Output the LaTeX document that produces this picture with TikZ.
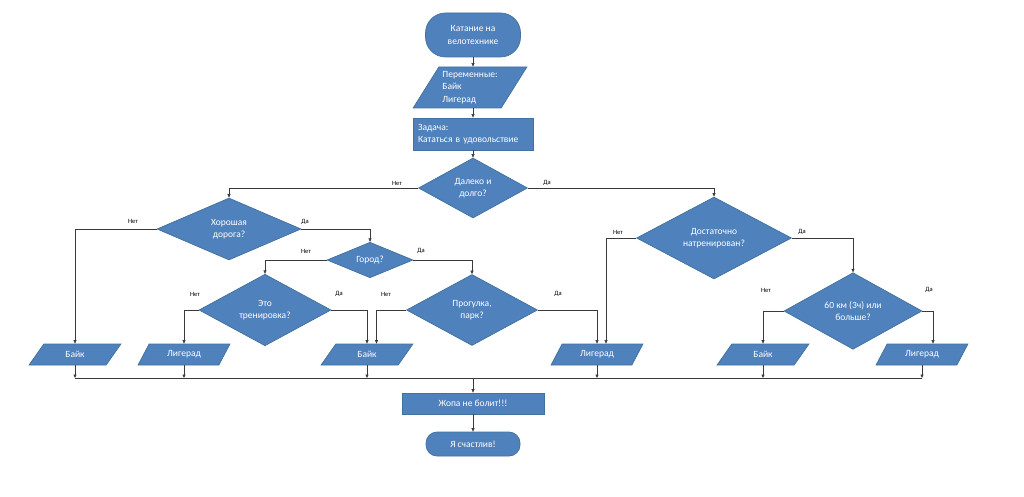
\documentclass[tikz,border=0pt]{standalone}
\usepackage{fontspec}
\setmainfont{Carlito}
\usetikzlibrary{shapes.geometric,arrows.meta}
\definecolor{boxfill}{HTML}{4F81BD}
\definecolor{boxline}{HTML}{41719C}
\definecolor{wirecol}{HTML}{3A3A3A}
\begin{document}
\begin{tikzpicture}[x=1pt,y=-1pt,
  base/.style={fill=boxfill, draw=boxline, line width=0.7pt, text=white,
    font=\fontsize{9.5}{12.5}\selectfont, inner sep=0pt, align=center},
  dec/.style={base, diamond},
  io/.style={base, trapezium, trapezium left angle=55, trapezium right angle=125,
    trapezium stretches=true, minimum width=92pt, minimum height=21pt},
  term/.style={base, rectangle},
  proc/.style={base, rectangle},
  lbl/.style={font=\fontsize{6.5}{7.5}\selectfont, text=black, inner sep=0pt},
  wire/.style={draw=wirecol, line width=0.6pt},
  arr/.style={wire, -{Triangle[length=3.5pt,width=3pt]}}]
\fill[white] (0,0) rectangle (1024,497);
\useasboundingbox (0,0) rectangle (1024,497);

% top chain
\node[term, minimum width=95pt, minimum height=44pt, rounded corners=20pt] (start) at (473,35) {Катание на\\велотехнике};
\node[io, minimum width=114pt, minimum height=41pt, align=left] (par) at (470,87.5) {Переменные:\\Байк\\Лигерад};
\node[proc, minimum width=120pt, minimum height=32pt, text width=110pt, align=left] (task) at (473,134) {Задача:\\Кататься в удовольствие};

% decisions
\node[dec, minimum width=109pt, minimum height=60pt] (d1) at (473,188) {Далеко и\\долго?};
\node[dec, minimum width=144pt, minimum height=62pt] (d2) at (229,229) {Хорошая\\дорога?};
\node[dec, minimum width=86pt, minimum height=30pt] (d3) at (370,260) {Город?};
\node[dec, minimum width=132pt, minimum height=70pt] (d4) at (265,310) {Это\\тренировка?};
\node[dec, minimum width=131pt, minimum height=71pt] (d5) at (472,310) {Прогулка,\\парк?};
\node[dec, minimum width=155pt, minimum height=63pt] (d6) at (714,238) {Достаточно\\натренирован?};
\node[dec, minimum width=138pt, minimum height=67pt] (d7) at (853,311) {60 км (3ч) или\\больше?};

% outcomes
\node[io] (b1) at (75,354.5) {Байк};
\node[io] (l1) at (184,354.5) {Лигерад};
\node[io] (bm) at (367,354.5) {Байк};
\node[io] (lm) at (597,354.5) {Лигерад};
\node[io] (br) at (763,354.5) {Байк};
\node[io] (lr) at (922,354.5) {Лигерад};

% end
\node[proc, minimum width=142pt, minimum height=21pt] (zh) at (473,403.5) {Жопа не болит!!!};
\node[term, minimum width=94pt, minimum height=24pt, rounded corners=11pt] (fin) at (473,444) {Я счастлив!};

% labels
\node[lbl] (t1n) at (397,183) {Нет};
\node[lbl] (t1y) at (547,183) {Да};
\node[lbl] (t2n) at (133,221) {Нет};
\node[lbl] (t2y) at (305,222) {Да};
\node[lbl] (t3n) at (306,251) {Нет};
\node[lbl] (t3y) at (421,251) {Да};
\node[lbl] (t4n) at (195,294) {Нет};
\node[lbl] (t4y) at (339,294) {Да};
\node[lbl] (t5n) at (386,294) {Нет};
\node[lbl] (t5y) at (558,294) {Да};
\node[lbl] (t6n) at (618,232) {Нет};
\node[lbl] (t6y) at (802,232) {Да};
\node[lbl] (t7n) at (766,290) {Нет};
\node[lbl] (t7y) at (929,290) {Да};

% connectors
\draw[arr] (start.south) -- (par.north -| start);
\draw[arr] (par.south -| start) -- (task.north);
\draw[arr] (task.south) -- (d1.north);
\draw[arr] (d1.west) -| (d2.north);
\draw[arr] (d1.east) -| (d6.north);
\draw[arr] (d2.west) -| (b1.north);
\draw[arr] (d2.east) -| (d3.north);
\draw[arr] (d3.west) -| (d4.north);
\draw[arr] (d3.east) -| (d5.north);
\draw[arr] (d4.west) -| (l1.north);
\draw[arr] (d4.east) -| (bm.north);
\draw[arr] (d5.west) -| ([xshift=9.5pt]bm.north);
\draw[arr] (d5.east) -| (lm.north);
\draw[arr] (d6.west) -| ([xshift=9pt]lm.north);
\draw[arr] (d6.east) -| (d7.north);
\draw[arr] (d7.west) -| (br.north);
\draw[arr] (d7.east) -| ([xshift=11pt]lr.north);

\coordinate (m) at (473,378);
\foreach \n in {b1,l1,bm,lm,br,lr} {\draw[arr] (\n.south) -- (\n.south |- m);}
\draw[wire] (b1.south |- m) -- (lr.south |- m);
\draw[arr] (m) -- (zh.north);
\draw[arr] (zh.south) -- (fin.north);
\end{tikzpicture}
\end{document}
